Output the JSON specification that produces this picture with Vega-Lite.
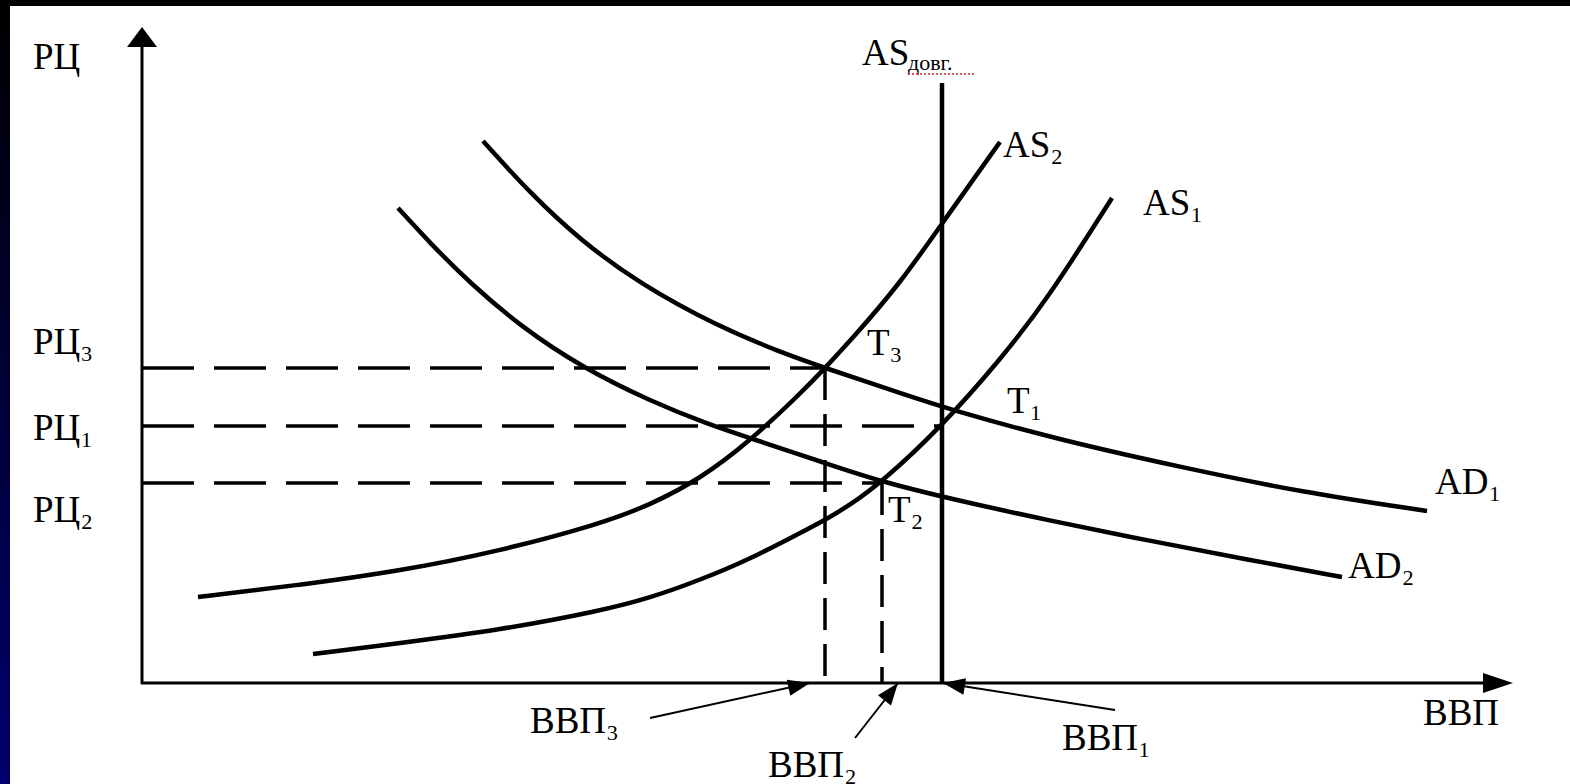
{
  "$schema": "https://vega.github.io/schema/vega-lite/v6.json",
  "width": 1560,
  "height": 778,
  "autosize": "none",
  "padding": {"left": 10, "top": 6, "right": 0, "bottom": 0},
  "background": "#000000",
  "view": {"fill": "white", "stroke": null},
  "datasets": {
    "curves": [
      {"curve": "AD1", "x": 483, "y": 643}, {"curve": "AD1", "x": 530, "y": 591}, {"curve": "AD1", "x": 580, "y": 544},
      {"curve": "AD1", "x": 640, "y": 500}, {"curve": "AD1", "x": 717, "y": 458}, {"curve": "AD1", "x": 780, "y": 432},
      {"curve": "AD1", "x": 825, "y": 416}, {"curve": "AD1", "x": 900, "y": 391}, {"curve": "AD1", "x": 951, "y": 374},
      {"curve": "AD1", "x": 1060, "y": 344}, {"curve": "AD1", "x": 1180, "y": 317}, {"curve": "AD1", "x": 1300, "y": 292},
      {"curve": "AD1", "x": 1427, "y": 273},
      {"curve": "AD2", "x": 398, "y": 576}, {"curve": "AD2", "x": 430, "y": 541}, {"curve": "AD2", "x": 470, "y": 501},
      {"curve": "AD2", "x": 520, "y": 458}, {"curve": "AD2", "x": 583, "y": 416}, {"curve": "AD2", "x": 650, "y": 383},
      {"curve": "AD2", "x": 710, "y": 359}, {"curve": "AD2", "x": 750, "y": 346}, {"curve": "AD2", "x": 825, "y": 321},
      {"curve": "AD2", "x": 882, "y": 302}, {"curve": "AD2", "x": 960, "y": 283}, {"curve": "AD2", "x": 1047, "y": 264},
      {"curve": "AD2", "x": 1150, "y": 243}, {"curve": "AD2", "x": 1250, "y": 224}, {"curve": "AD2", "x": 1342, "y": 207},
      {"curve": "AS2", "x": 198, "y": 187}, {"curve": "AS2", "x": 300, "y": 199}, {"curve": "AS2", "x": 400, "y": 213},
      {"curve": "AS2", "x": 500, "y": 233}, {"curve": "AS2", "x": 600, "y": 260}, {"curve": "AS2", "x": 650, "y": 279},
      {"curve": "AS2", "x": 700, "y": 305}, {"curve": "AS2", "x": 750, "y": 343}, {"curve": "AS2", "x": 800, "y": 390},
      {"curve": "AS2", "x": 825, "y": 416}, {"curve": "AS2", "x": 850, "y": 443}, {"curve": "AS2", "x": 900, "y": 500},
      {"curve": "AS2", "x": 950, "y": 572}, {"curve": "AS2", "x": 1000, "y": 642},
      {"curve": "AS1", "x": 313, "y": 130}, {"curve": "AS1", "x": 400, "y": 141}, {"curve": "AS1", "x": 500, "y": 154},
      {"curve": "AS1", "x": 600, "y": 173}, {"curve": "AS1", "x": 650, "y": 186}, {"curve": "AS1", "x": 700, "y": 204},
      {"curve": "AS1", "x": 750, "y": 225}, {"curve": "AS1", "x": 800, "y": 251}, {"curve": "AS1", "x": 825, "y": 264},
      {"curve": "AS1", "x": 850, "y": 279}, {"curve": "AS1", "x": 882, "y": 302}, {"curve": "AS1", "x": 942, "y": 358},
      {"curve": "AS1", "x": 1000, "y": 424}, {"curve": "AS1", "x": 1047, "y": 484}, {"curve": "AS1", "x": 1112, "y": 586}
    ],
    "solidRules": [
      {"name": "Y axis", "x": 142, "y": 740, "x2": 142, "y2": 100},
      {"name": "X axis", "x": 141, "y": 101, "x2": 1490, "y2": 101}
    ],
    "longRun": [
      {"name": "AS long", "x": 942, "y": 701, "x2": 942, "y2": 101}
    ],
    "hDash": [
      {"name": "PC3", "x": 142, "y": 416, "x2": 825, "y2": 416},
      {"name": "PC1", "x": 142, "y": 358, "x2": 942, "y2": 358},
      {"name": "PC2", "x": 142, "y": 301, "x2": 882, "y2": 301}
    ],
    "vDash": [
      {"name": "GDP3", "x": 825, "y": 416, "x2": 825, "y2": 101},
      {"name": "GDP2", "x": 882, "y": 301, "x2": 882, "y2": 101}
    ],
    "pointers": [
      {"name": "GDP3", "x": 650, "y": 66, "x2": 810, "y2": 101},
      {"name": "GDP2", "x": 855, "y": 46, "x2": 898, "y2": 101},
      {"name": "GDP1", "x": 1115, "y": 74, "x2": 943, "y2": 101}
    ],
    "pointerHeads": [
      {"name": "GDP3", "x": 810, "y": 101, "angle": 77.7},
      {"name": "GDP2", "x": 898, "y": 101, "angle": 38},
      {"name": "GDP1", "x": 943, "y": 101, "angle": 279.2}
    ],
    "labels": [
      {"label": "РЦ", "x": 33, "y": 715},
      {"label": "РЦ₃", "x": 33, "y": 430},
      {"label": "РЦ₁", "x": 33, "y": 344},
      {"label": "РЦ₂", "x": 33, "y": 262},
      {"label": "AS", "x": 862, "y": 719},
      {"label": "AS₂", "x": 1003, "y": 627},
      {"label": "AS₁", "x": 1143, "y": 569},
      {"label": "Т₃", "x": 867, "y": 429},
      {"label": "Т₁", "x": 1007, "y": 371},
      {"label": "Т₂", "x": 888, "y": 262},
      {"label": "AD₁", "x": 1435, "y": 290},
      {"label": "AD₂", "x": 1348, "y": 206},
      {"label": "ВВП", "x": 1423, "y": 59},
      {"label": "ВВП₃", "x": 530, "y": 51},
      {"label": "ВВП₂", "x": 768, "y": 7},
      {"label": "ВВП₁", "x": 1062, "y": 34}
    ]
  },
  "encoding": {
    "x": {"field": "x", "type": "quantitative", "scale": {"domain": [10, 1570], "nice": false, "zero": false}, "axis": null},
    "y": {"field": "y", "type": "quantitative", "scale": {"domain": [0, 778], "nice": false, "zero": false}, "axis": null}
  },
  "layer": [
    {
      "data": {"values": [{"x": 0, "y": 0, "x2": 10, "y2": 784}]},
      "mark": {"type": "rect", "clip": false, "color": {"gradient": "linear", "x1": 0, "y1": 0, "x2": 0, "y2": 1, "stops": [{"offset": 0, "color": "#000000"}, {"offset": 1, "color": "#00006e"}]}},
      "encoding": {"x2": {"field": "x2"}, "y2": {"field": "y2"}}
    },
    {
      "data": {"name": "hDash"},
      "mark": {"type": "rule", "color": "black", "strokeWidth": 3.5, "strokeDash": [52, 20]},
      "encoding": {"x2": {"field": "x2"}, "y2": {"field": "y2"}}
    },
    {
      "data": {"name": "vDash"},
      "mark": {"type": "rule", "color": "black", "strokeWidth": 3.5, "strokeDash": [32, 14]},
      "encoding": {"x2": {"field": "x2"}, "y2": {"field": "y2"}}
    },
    {
      "data": {"name": "curves"},
      "mark": {"type": "line", "color": "black", "strokeWidth": 4.5, "interpolate": "basis"},
      "encoding": {"detail": {"field": "curve"}}
    },
    {
      "data": {"name": "longRun"},
      "mark": {"type": "rule", "color": "black", "strokeWidth": 4.5},
      "encoding": {"x2": {"field": "x2"}, "y2": {"field": "y2"}}
    },
    {
      "data": {"name": "solidRules"},
      "mark": {"type": "rule", "color": "black", "strokeWidth": 3},
      "encoding": {"x2": {"field": "x2"}, "y2": {"field": "y2"}}
    },
    {
      "data": {"name": "pointers"},
      "mark": {"type": "rule", "color": "black", "strokeWidth": 2},
      "encoding": {"x2": {"field": "x2"}, "y2": {"field": "y2"}}
    },
    {
      "data": {"name": "pointerHeads"},
      "mark": {"type": "point", "shape": "M0,0L0.75,2L-0.75,2Z", "filled": true, "opacity": 1, "color": "black", "size": 484, "strokeWidth": 0},
      "encoding": {"angle": {"field": "angle", "type": "quantitative", "scale": null}}
    },
    {
      "data": {"values": [{"x": 142, "y": 757}]},
      "mark": {"type": "point", "shape": "M0,0L1.5,2L-1.5,2Z", "filled": true, "opacity": 1, "color": "black", "size": 400, "strokeWidth": 0}
    },
    {
      "data": {"values": [{"x": 1513, "y": 101}]},
      "mark": {"type": "point", "shape": "M0,0L0.667,2L-0.667,2Z", "filled": true, "opacity": 1, "color": "black", "size": 900, "angle": 90, "strokeWidth": 0}
    },
    {
      "data": {"name": "labels"},
      "mark": {"type": "text", "align": "left", "baseline": "alphabetic", "font": "Liberation Serif", "fontSize": 37, "color": "black"},
      "encoding": {"text": {"field": "label"}}
    },
    {
      "data": {"values": [{"label": "довг.", "x": 908, "y": 714}]},
      "mark": {"type": "text", "align": "left", "baseline": "alphabetic", "font": "Liberation Serif", "fontSize": 22, "color": "black"},
      "encoding": {"text": {"field": "label"}}
    },
    {
      "data": {"values": [{"x": 908, "y": 710, "x2": 976, "y2": 710}]},
      "mark": {"type": "rule", "color": "#cc2222", "strokeWidth": 1.5, "strokeDash": [2, 2]},
      "encoding": {"x2": {"field": "x2"}, "y2": {"field": "y2"}}
    }
  ]
}
